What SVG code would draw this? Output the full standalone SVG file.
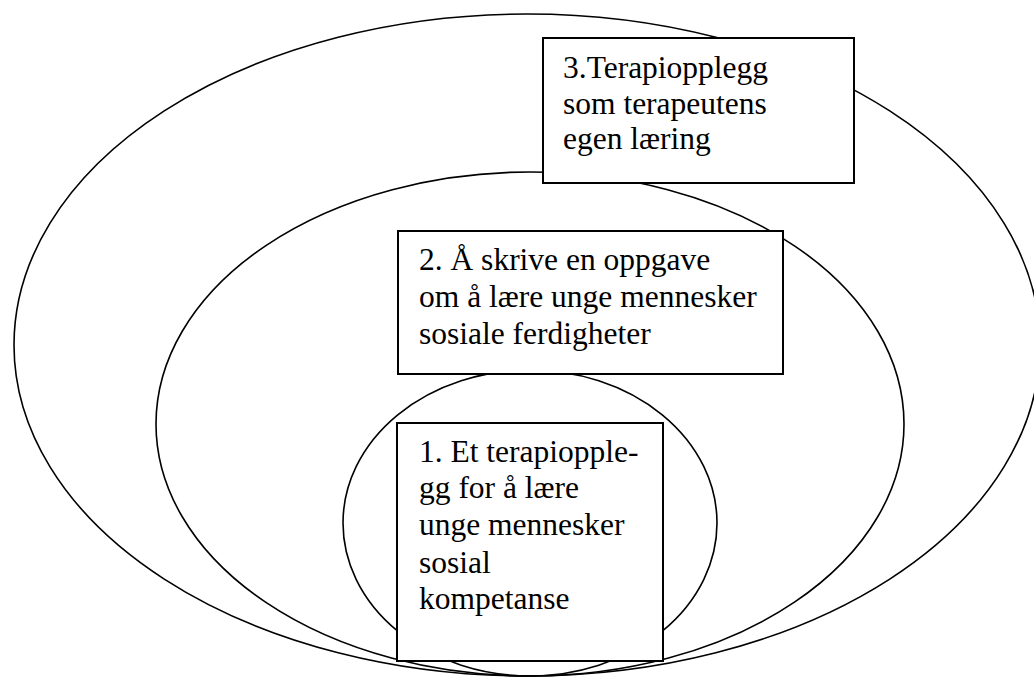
<svg xmlns="http://www.w3.org/2000/svg" width="1034" height="680" viewBox="0 0 1034 680">
<style>
.ring{fill:none;stroke:#000;stroke-width:1.6}
.box{fill:#fff;stroke:#000;stroke-width:2}
</style>
<rect width="1034" height="680" fill="#fff"/>
<g id="ring3"><ellipse class="ring" cx="527" cy="345" rx="513" ry="331"/></g>
<g id="ring2"><ellipse class="ring" cx="530" cy="424" rx="374" ry="252"/></g>
<g id="ring1"><ellipse class="ring" cx="530" cy="523" rx="187" ry="153"/></g>
<g id="node3">
<rect class="box" x="543" y="38" width="311" height="145"/>
<text font-family="Liberation Serif, serif" font-size="31.5" fill="#000"><tspan x="563" y="78">3.Terapiopplegg</tspan><tspan x="563" y="114">som terapeutens</tspan><tspan x="563" y="149">egen læring</tspan></text>
</g>
<g id="node2">
<rect class="box" x="398" y="231" width="385" height="143"/>
<text font-family="Liberation Serif, serif" font-size="31.5" fill="#000"><tspan x="419" y="270">2. Å skrive en oppgave</tspan><tspan x="419" y="307">om å lære unge mennesker</tspan><tspan x="419" y="344">sosiale ferdigheter</tspan></text>
</g>
<g id="node1">
<rect class="box" x="397" y="423" width="266" height="238"/>
<text font-family="Liberation Serif, serif" font-size="31.5" fill="#000"><tspan x="419" y="462">1. Et terapiopple-</tspan><tspan x="419" y="498">gg for å lære</tspan><tspan x="419" y="535">unge mennesker</tspan><tspan x="419" y="573">sosial</tspan><tspan x="419" y="609">kompetanse</tspan></text>
</g>
<g id="connectors"/>
</svg>
